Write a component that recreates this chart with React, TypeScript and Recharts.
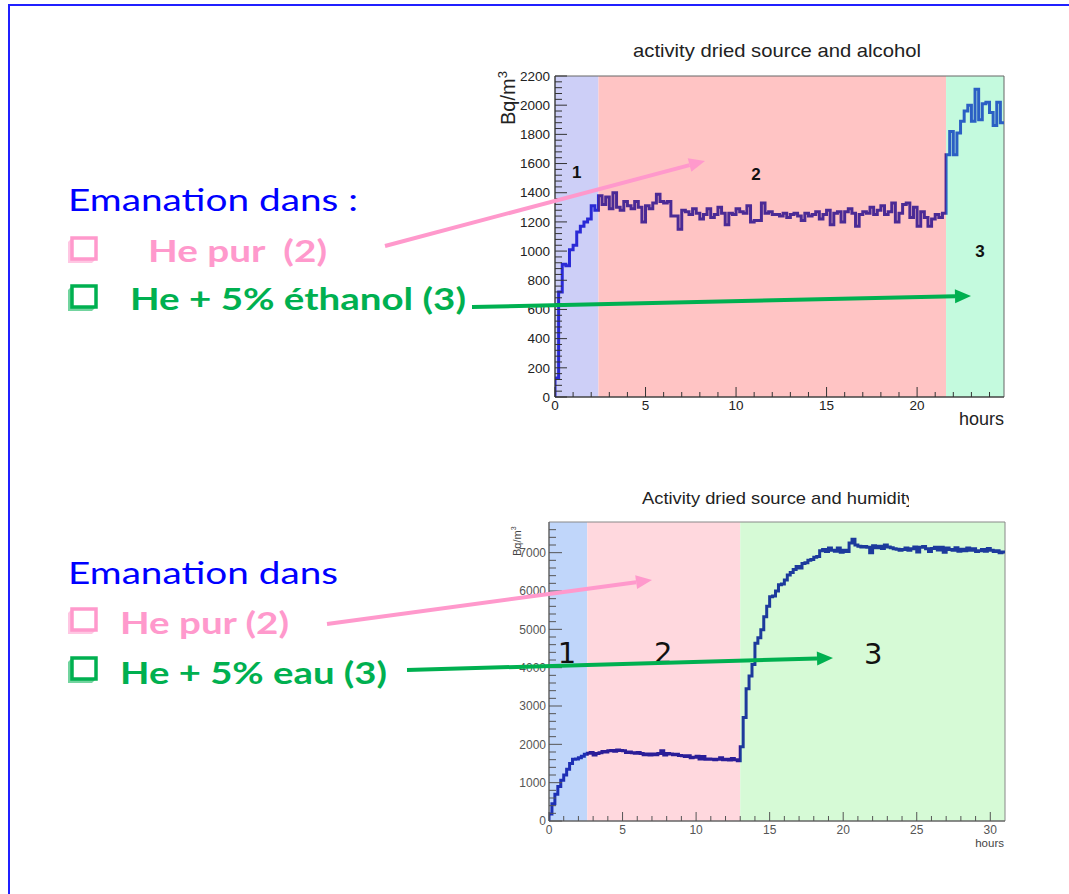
import React from 'react';
import { LineChart, Line, XAxis, YAxis, ReferenceArea, ReferenceDot } from 'recharts';

// histogram bin width in hours (12 min)
const BIN_H = 0.2;

// ---- run 1 : dried source, He then He + ethanol (Bq/m3 per bin) ----
const alcoholFilling = [130, 720, 910, 900, 1010, 1040, 1130, 1170, 1200, 1220, 1310, 1280];
const alcoholPureHe = [
  1380, 1320, 1370, 1290, 1400, 1300, 1280, 1340, 1310, 1290, 1340, 1300,
  1200, 1310, 1290, 1330, 1390, 1340, 1330, 1340, 1240, 1240, 1150, 1280,
  1270, 1250, 1290, 1260, 1220, 1250, 1290, 1230, 1250, 1300, 1260, 1180,
  1260, 1250, 1290, 1270, 1260, 1310, 1200, 1210, 1210, 1330, 1260, 1270,
  1250, 1250, 1240, 1260, 1230, 1250, 1260, 1240, 1210, 1260, 1240, 1250,
  1270, 1220, 1250, 1280, 1180, 1260, 1270, 1200, 1270, 1290, 1260, 1170,
  1250, 1270, 1260, 1300, 1250, 1280, 1310, 1250, 1270, 1330, 1200, 1260,
  1320, 1330, 1230, 1300, 1170, 1270, 1230, 1170, 1220, 1250, 1230, 1260,
];
const alcoholEthanol = [1660, 1820, 1660, 1810, 1890, 1960, 2000, 1890, 2110, 1900, 2010, 2020, 1950, 1860, 2020, 1880];

// ---- run 2 : dried source, He then He + water ----
const humidityFilling = [180, 450, 700, 900, 1060, 1200, 1350, 1500, 1610, 1620, 1650, 1690, 1740];
const humidityPureHe = [
  1770, 1790, 1720, 1760, 1780, 1810, 1800, 1830, 1840, 1820,
  1850, 1840, 1830, 1790, 1800, 1780, 1770, 1790, 1760, 1730,
  1750, 1720, 1750, 1730, 1760, 1830, 1720, 1760, 1750, 1730,
  1740, 1710, 1700, 1680, 1700, 1650, 1660, 1690, 1620, 1680,
  1610, 1620, 1610, 1600, 1610, 1650, 1600, 1610, 1590, 1630,
  1600, 1570,
];
const humidityWater = [
  1940, 2700, 3450, 3780, 4080, 4640, 4780, 4990, 5330, 5600,
  5850, 5870, 6000, 6160, 6180, 6290, 6420, 6480, 6560, 6640,
  6600, 6720, 6740, 6800, 6820, 6880, 6900, 7050, 7080, 7030,
  7120, 7060, 7040, 7120, 7010, 7060, 7030, 7250, 7350, 7200,
  7170, 7150, 7160, 7140, 7000, 7180, 7130, 7170, 7110, 7200,
  7150, 7130, 7100, 7090, 7060, 7080, 7120, 7060, 7100, 7150,
  7020, 7140, 7160, 7100, 7030, 7110, 7140, 7070, 7140, 7010,
  7120, 7080, 7060, 7130, 7040, 7090, 7050, 7120, 7060, 7100,
  7030, 7050, 7080, 7040, 7110, 7060, 7030, 7050, 7000, 7020,
];

const alcoholPhases = [alcoholFilling, alcoholPureHe, alcoholEthanol];
const humidityPhases = [humidityFilling, humidityPureHe, humidityWater];

const alcoholBandColors = ['#cdcff7', '#ffc4c4', '#c4fade'];
const alcoholLineColors = ['#2a2ad6', '#4b2a95', '#2b5fc4'];
const humidityBandColors = ['#c0d6fa', '#ffd8de', '#d6fad6'];
const humidityLineColors = ['#1d2fb5', '#2b1d98', '#1c3a9c'];

const range = (from: number, to: number, step: number) => {
  const out: number[] = [];
  for (let v = from; v <= to + 1e-9; v += step) out.push(Math.round(v * 100) / 100);
  return out;
};

// ROOT-like histogram: start from zero, one point per bin edge, closing point at the last edge
const toSteps = (phases: number[][]) => {
  const vals = phases.flat();
  const pts = [{ t: 0, v: 0 }];
  vals.forEach((v, i) => pts.push({ t: Math.round(i * BIN_H * 100) / 100, v }));
  pts.push({ t: Math.round(vals.length * BIN_H * 100) / 100, v: vals[vals.length - 1] });
  return pts;
};

const phaseEdges = (phases: number[][]) => {
  const edges = [0];
  phases.forEach((p) => edges.push(Math.round((edges[edges.length - 1] + p.length * BIN_H) * 100) / 100));
  return edges;
};

type Tag = { text: string; t: number; v: number };

const alcoholTags: Tag[] = [
  { text: '1', t: 1.2, v: 1546 },
  { text: '2', t: 11.1, v: 1526 },
  { text: '3', t: 23.48, v: 1003 },
];
const humidityTags: Tag[] = [
  { text: '1', t: 1.22, v: 4386 },
  { text: '2', t: 7.76, v: 4386 },
  { text: '3', t: 22.04, v: 4360 },
];

interface PanelProps {
  id: string;
  left: number;
  top: number;
  width: number;
  height: number;
  margin: { top: number; right: number; bottom: number; left: number };
  phases: number[][];
  bandColors: string[];
  lineColors: string[];
  yMax: number;
  xTicks: number[];
  xMajorEvery: number;
  yTicks: number[];
  yMajorEvery: number;
  tickFont: number;
  tickColor: string;
  axisColor: string;
  frameColor: string;
  yLens: [number, number];
  xLens: [number, number];
  yLabelGap: number;
  xLabelGap: number;
  lineWidth: number;
  tags: Tag[];
  tagFont: number;
  tagWeight: number | string;
  tagFamily: string;
}

function HistPanel(p: PanelProps) {
  const data = toSteps(p.phases);
  const edges = phaseEdges(p.phases);
  const xMax = edges[edges.length - 1];

  const stops: { offset: number; color: string }[] = [];
  p.lineColors.forEach((c, i) => {
    stops.push({ offset: edges[i] / xMax, color: c });
    stops.push({ offset: edges[i + 1] / xMax, color: c });
  });

  // ticks point into the frame, only major ones carry a label
  const yTick = (t: any) => {
    const major = t.payload.value % p.yMajorEvery === 0;
    const len = major ? p.yLens[0] : p.yLens[1];
    return (
      <g>
        <line x1={t.x} x2={t.x + len} y1={t.y} y2={t.y} stroke={p.axisColor} strokeWidth={1} />
        {major && (
          <text x={t.x - p.yLabelGap} y={t.y} dy="0.35em" textAnchor="end" fontSize={p.tickFont}
            fontFamily="'Liberation Sans', Arial, sans-serif" fill={p.tickColor}>
            {t.payload.value}
          </text>
        )}
      </g>
    );
  };

  const xTick = (t: any) => {
    const major = t.payload.value % p.xMajorEvery === 0;
    const len = major ? p.xLens[0] : p.xLens[1];
    return (
      <g>
        <line x1={t.x} x2={t.x} y1={t.y} y2={t.y - len} stroke={p.axisColor} strokeWidth={1} />
        {major && (
          <text x={t.x} y={t.y + p.xLabelGap} textAnchor="middle" fontSize={p.tickFont}
            fontFamily="'Liberation Sans', Arial, sans-serif" fill={p.tickColor}>
            {t.payload.value}
          </text>
        )}
      </g>
    );
  };

  return (
    <div style={{ position: 'absolute', left: p.left, top: p.top }}>
      <LineChart width={p.width} height={p.height} data={data} margin={p.margin}>
        <defs>
          <linearGradient id={p.id} x1="0" y1="0" x2="1" y2="0">
            {stops.map((s, i) => (
              <stop key={i} offset={s.offset} stopColor={s.color} />
            ))}
          </linearGradient>
        </defs>
        {p.bandColors.map((fill, i) => (
          <ReferenceArea key={i} x1={edges[i]} x2={edges[i + 1]} y1={0} y2={p.yMax}
            fill={fill} fillOpacity={1} stroke="none" />
        ))}
        <ReferenceArea x1={0} x2={xMax} y1={0} y2={p.yMax} fill="none" stroke={p.frameColor} strokeWidth={1} />
        <XAxis type="number" dataKey="t" domain={[0, xMax]} ticks={p.xTicks} interval={0} allowDataOverflow
          height={1} tickSize={0} tickMargin={0} tickLine={false} stroke={p.axisColor} tick={xTick} />
        <YAxis type="number" domain={[0, p.yMax]} ticks={p.yTicks} interval={0} allowDataOverflow
          width={1} tickSize={0} tickMargin={0} tickLine={false} stroke={p.axisColor} tick={yTick} />
        <Line type="stepAfter" dataKey="v" stroke={`url(#${p.id})`} strokeWidth={p.lineWidth}
          dot={false} activeDot={false} isAnimationActive={false} />
        {p.tags.map((tag) => (
          <ReferenceDot key={tag.text} x={tag.t} y={tag.v} r={0}
            shape={(s: any) => (
              <text x={s.cx} y={s.cy} dy="0.36em" textAnchor="middle" fontSize={p.tagFont}
                fontWeight={p.tagWeight} fontFamily={p.tagFamily} fill="#111">
                {tag.text}
              </text>
            )}
          />
        ))}
      </LineChart>
    </div>
  );
}

type Pt = [number, number];

const Arrow = ({ from, to, color }: { from: Pt; to: Pt; color: string }) => {
  const [x1, y1] = from;
  const [x2, y2] = to;
  const a = Math.atan2(y2 - y1, x2 - x1);
  const headLen = 16;
  const headHalf = 7;
  const bx = x2 - headLen * Math.cos(a);
  const by = y2 - headLen * Math.sin(a);
  const nx = -Math.sin(a) * headHalf;
  const ny = Math.cos(a) * headHalf;
  return (
    <g>
      <line x1={x1} y1={y1} x2={bx} y2={by} stroke={color} strokeWidth={4} />
      <polygon points={`${x2},${y2} ${bx + nx},${by + ny} ${bx - nx},${by - ny}`} fill={color} />
    </g>
  );
};

// shadowed square bullet
const Tickbox = ({ x, y, color }: { x: number; y: number; color: string }) => (
  <g>
    <polygon
      points={`${x + 5},${y + 2} ${x + 1},${y + 6} ${x + 1},${y + 27} ${x + 25},${y + 27} ${x + 29},${y + 23} ${x + 5},${y + 23}`}
      fill={color} fillOpacity={0.55} />
    <rect x={x + 5} y={y + 2} width={24} height={21} fill="#fff" stroke={color} strokeWidth={3.5} />
  </g>
);

const BLUE = '#0000ff';
const PINK = '#ff99cc';
const GREEN = '#00b050';
const SLIDE_FONT = "Lato, 'Open Sans', sans-serif";
const PLOT_FONT = "'Liberation Sans', Arial, sans-serif";

export default function App() {
  return (
    <div style={{ position: 'absolute', left: 0, top: 0, width: 1069, height: 894, background: '#fff', overflow: 'hidden' }}>
      <HistPanel
        id="alcoholStroke"
        left={490} top={40} width={530} height={400}
        margin={{ top: 36, right: 16, bottom: 42, left: 64 }}
        phases={alcoholPhases}
        bandColors={alcoholBandColors}
        lineColors={alcoholLineColors}
        yMax={2200}
        xTicks={range(0, 24, 1)} xMajorEvery={5}
        yTicks={range(0, 2200, 40)} yMajorEvery={200}
        tickFont={13.5} tickColor="#222" axisColor="#333" frameColor="#666"
        yLens={[12, 7]} xLens={[10, 5]}
        yLabelGap={5} xLabelGap={13}
        lineWidth={3}
        tags={alcoholTags} tagFont={17} tagWeight="bold" tagFamily={PLOT_FONT}
      />
      <HistPanel
        id="humidityStroke"
        left={490} top={510} width={530} height={345}
        margin={{ top: 12, right: 15, bottom: 33, left: 58 }}
        phases={humidityPhases}
        bandColors={humidityBandColors}
        lineColors={humidityLineColors}
        yMax={7800}
        xTicks={range(0, 30, 1)} xMajorEvery={5}
        yTicks={range(0, 7600, 200)} yMajorEvery={1000}
        tickFont={12} tickColor="#555" axisColor="#555" frameColor="#888"
        yLens={[13, 7]} xLens={[9, 5]}
        yLabelGap={3} xLabelGap={13}
        lineWidth={3}
        tags={humidityTags} tagFont={29} tagWeight="normal" tagFamily="'DejaVu Sans', sans-serif"
      />

      <svg width={1069} height={894} style={{ position: 'absolute', left: 0, top: 0, pointerEvents: 'none' }}>
        <defs>
          <clipPath id="titleClip">
            <rect x={600} y={480} width={309} height={40} />
          </clipPath>
        </defs>
        <rect x={9} y={5} width={1100} height={950} fill="none" stroke="#2020ff" strokeWidth={2} />

        {/* plot titles and axis names */}
        <text x={633} y={57} fontSize={19} fontFamily={PLOT_FONT} fill="#222" textLength={288} lengthAdjust="spacingAndGlyphs">
          activity dried source and alcohol
        </text>
        <text x={642} y={504} fontSize={17} fontFamily={PLOT_FONT} fill="#222" textLength={273} lengthAdjust="spacingAndGlyphs" clipPath="url(#titleClip)">
          Activity dried source and humidity
        </text>
        <text transform="translate(515,125) rotate(-90)" fontSize={20} fontFamily={PLOT_FONT} fill="#222">
          Bq/m<tspan dy={-8} fontSize={13}>3</tspan>
        </text>
        <text transform="translate(521,556) rotate(-90)" fontSize={11} fontFamily={PLOT_FONT} fill="#444">
          Bq/m<tspan dy={-5} fontSize={7}>3</tspan>
        </text>
        <text x={1004} y={425} textAnchor="end" fontSize={18} fontFamily={PLOT_FONT} fill="#222">hours</text>
        <text x={1004} y={847} textAnchor="end" fontSize={11.5} fontFamily={PLOT_FONT} fill="#444">hours</text>

        {/* upper block */}
        <text x={68} y={211} fontSize={31} fontFamily={SLIDE_FONT} fill={BLUE} textLength={290} lengthAdjust="spacingAndGlyphs">
          Emanation dans :
        </text>
        <Tickbox x={67} y={236} color={PINK} />
        <text x={148} y={262} fontSize={31} fontWeight="bold" fontFamily={SLIDE_FONT} fill={PINK}
          textLength={179} lengthAdjust="spacingAndGlyphs" style={{ whiteSpace: 'pre' }}>
          He pur  (2)
        </text>
        <Tickbox x={67} y={284} color={GREEN} />
        <text x={130} y={310} fontSize={31} fontWeight="bold" fontFamily={SLIDE_FONT} fill={GREEN}
          textLength={336} lengthAdjust="spacingAndGlyphs">
          He + 5% éthanol (3)
        </text>

        {/* lower block */}
        <text x={68} y={584} fontSize={31} fontFamily={SLIDE_FONT} fill={BLUE} textLength={270} lengthAdjust="spacingAndGlyphs">
          Emanation dans
        </text>
        <Tickbox x={67} y={607} color={PINK} />
        <text x={120} y={634} fontSize={31} fontWeight="bold" fontFamily={SLIDE_FONT} fill={PINK}
          textLength={169} lengthAdjust="spacingAndGlyphs">
          He pur (2)
        </text>
        <Tickbox x={67} y={656} color={GREEN} />
        <text x={120} y={684} fontSize={31} fontWeight="bold" fontFamily={SLIDE_FONT} fill={GREEN}
          textLength={267} lengthAdjust="spacingAndGlyphs">
          He + 5% eau (3)
        </text>

        <Arrow from={[385, 246]} to={[705, 161]} color={PINK} />
        <Arrow from={[472, 307]} to={[971, 296]} color={GREEN} />
        <Arrow from={[327, 624]} to={[652, 580]} color={PINK} />
        <Arrow from={[407, 670]} to={[833, 658]} color={GREEN} />
      </svg>
    </div>
  );
}
